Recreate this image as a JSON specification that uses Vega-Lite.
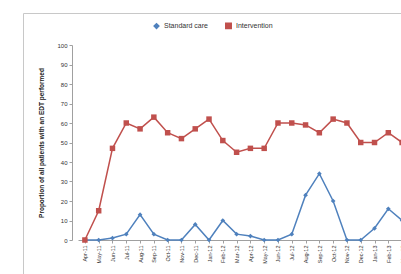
{
  "$schema": "https://vega.github.io/schema/vega-lite/v6.json",
  "autosize": "none",
  "padding": {"left": 23, "top": 13, "right": 0, "bottom": 0},
  "width": 430,
  "height": 300,
  "background": "white",
  "config": {
    "view": {"stroke": "#c8c8c8", "strokeWidth": 1},
    "font": "Liberation Sans"
  },
  "data": {
    "values": [
      {"month": "Apr-11", "group": "Standard care", "value": 0},
      {"month": "May-11", "group": "Standard care", "value": 0},
      {"month": "Jun-11", "group": "Standard care", "value": 1},
      {"month": "Jul-11", "group": "Standard care", "value": 3},
      {"month": "Aug-11", "group": "Standard care", "value": 13},
      {"month": "Sep-11", "group": "Standard care", "value": 3},
      {"month": "Oct-11", "group": "Standard care", "value": 0},
      {"month": "Nov-11", "group": "Standard care", "value": 0},
      {"month": "Dec-11", "group": "Standard care", "value": 8},
      {"month": "Jan-12", "group": "Standard care", "value": 0},
      {"month": "Feb-12", "group": "Standard care", "value": 10},
      {"month": "Mar-12", "group": "Standard care", "value": 3},
      {"month": "Apr-12", "group": "Standard care", "value": 2},
      {"month": "May-12", "group": "Standard care", "value": 0},
      {"month": "Jun-12", "group": "Standard care", "value": 0},
      {"month": "Jul-12", "group": "Standard care", "value": 3},
      {"month": "Aug-12", "group": "Standard care", "value": 23},
      {"month": "Sep-12", "group": "Standard care", "value": 34},
      {"month": "Oct-12", "group": "Standard care", "value": 20},
      {"month": "Nov-12", "group": "Standard care", "value": 0},
      {"month": "Dec-12", "group": "Standard care", "value": 0},
      {"month": "Jan-13", "group": "Standard care", "value": 6},
      {"month": "Feb-13", "group": "Standard care", "value": 16},
      {"month": "Mar-13", "group": "Standard care", "value": 10},
      {"month": "Apr-11", "group": "Intervention", "value": 0},
      {"month": "May-11", "group": "Intervention", "value": 15},
      {"month": "Jun-11", "group": "Intervention", "value": 47},
      {"month": "Jul-11", "group": "Intervention", "value": 60},
      {"month": "Aug-11", "group": "Intervention", "value": 57},
      {"month": "Sep-11", "group": "Intervention", "value": 63},
      {"month": "Oct-11", "group": "Intervention", "value": 55},
      {"month": "Nov-11", "group": "Intervention", "value": 52},
      {"month": "Dec-11", "group": "Intervention", "value": 57},
      {"month": "Jan-12", "group": "Intervention", "value": 62},
      {"month": "Feb-12", "group": "Intervention", "value": 51},
      {"month": "Mar-12", "group": "Intervention", "value": 45},
      {"month": "Apr-12", "group": "Intervention", "value": 47},
      {"month": "May-12", "group": "Intervention", "value": 47},
      {"month": "Jun-12", "group": "Intervention", "value": 60},
      {"month": "Jul-12", "group": "Intervention", "value": 60},
      {"month": "Aug-12", "group": "Intervention", "value": 59},
      {"month": "Sep-12", "group": "Intervention", "value": 55},
      {"month": "Oct-12", "group": "Intervention", "value": 62},
      {"month": "Nov-12", "group": "Intervention", "value": 60},
      {"month": "Dec-12", "group": "Intervention", "value": 50},
      {"month": "Jan-13", "group": "Intervention", "value": 50},
      {"month": "Feb-13", "group": "Intervention", "value": 55},
      {"month": "Mar-13", "group": "Intervention", "value": 50}
    ]
  },
  "encoding": {
    "x": {
      "field": "month", "type": "ordinal", "sort": null,
      "scale": {"type": "point", "range": [55, 386]},
      "axis": {
        "title": null, "labelAngle": 270, "labelFontSize": 5.5, "labelColor": "#333",
        "domainColor": "#a0a0a0", "tickColor": "#a0a0a0", "tickSize": 3,
        "offset": -73, "labelPadding": 2, "labelAlign": "right", "labelBaseline": "middle"
      }
    },
    "y": {
      "field": "value", "type": "quantitative",
      "scale": {"domain": [0, 100], "range": [227, 32], "nice": false},
      "axis": {
        "title": "Proportion of all patients with an EDT performed",
        "titleFontSize": 6.5, "titleFontWeight": "bold", "titleColor": "#222",
        "titlePadding": 12,
        "values": [0, 10, 20, 30, 40, 50, 60, 70, 80, 90, 100],
        "labelFontSize": 6, "labelColor": "#333", "grid": false,
        "domainColor": "#a0a0a0", "tickColor": "#a0a0a0", "tickSize": 3,
        "offset": -49
      }
    },
    "color": {
      "field": "group", "type": "nominal",
      "scale": {"domain": ["Standard care", "Intervention"], "range": ["#4F81BD", "#C0504D"]},
      "legend": {
        "title": null, "orient": "none", "legendX": 130, "legendY": 9,
        "direction": "horizontal", "labelFontSize": 7, "labelColor": "#333",
        "symbolSize": 30, "columnPadding": 14
      }
    }
  },
  "layer": [
    {"mark": {"type": "line", "strokeWidth": 1.5}},
    {
      "mark": {"type": "point", "filled": true, "opacity": 1},
      "encoding": {
        "shape": {
          "field": "group", "type": "nominal",
          "scale": {"domain": ["Standard care", "Intervention"], "range": ["diamond", "square"]},
          "legend": null
        },
        "size": {
          "field": "group", "type": "nominal",
          "scale": {"domain": ["Standard care", "Intervention"], "range": [22, 30]},
          "legend": null
        }
      }
    }
  ]
}
